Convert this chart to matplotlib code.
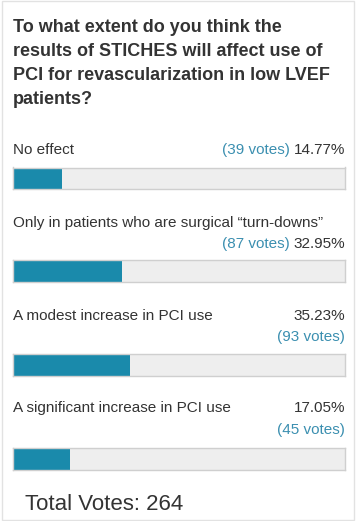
import matplotlib
matplotlib.use("Agg")
import matplotlib.pyplot as plt
from matplotlib.patches import Rectangle

# ---- data ----
title_lines = ["To what extent do you think the",
               "results of STICHES will affect use of",
               "PCI for revascularization in low LVEF",
               "patients?"]
options = ["No effect",
           "Only in patients who are surgical \u201cturn-downs\u201d",
           "A modest increase in PCI use",
           "A significant increase in PCI use"]
votes = [39, 87, 93, 45]
percents = [14.77, 32.95, 35.23, 17.05]
total_votes = 264

# ---- layout (pixel space) ----
W, H = 356, 521
FONT = ["Liberation Sans", "DejaVu Sans"]
DARK = "#333333"
TEAL_TXT = "#3b8fb0"
BAR = "#1a8aab"
BAR_BG = "#eeeeee"
BAR_EDGE = "#cfcfcf"
LEFT, RIGHT = 13, 345

fig = plt.figure(figsize=(W / 100, H / 100), dpi=100)
fig.patch.set_facecolor("white")
bg = fig.add_axes([0, 0, 1, 1])
bg.set_xlim(0, W)
bg.set_ylim(H, 0)
bg.axis("off")
bg.add_patch(Rectangle((1.5, 0.5), W - 4, H - 1.5, fill=False, edgecolor="#e2e2e2", lw=1))

title_baselines = [32, 56, 80, 104]
for line, yb in zip(title_lines, title_baselines):
    bg.text(LEFT, yb, line, fontsize=12.95, fontweight="bold", color=DARK,
            family=FONT, va="baseline", ha="left")

label_base = [154, 227, 320, 412]
vote_base = [154, 248, 341, 434]
pct_base = [154, 248, 320, 412]
bar_top = [167.5, 260, 354, 448]
bar_h = 21.5
FS = 11.0

renderer = fig.canvas.get_renderer()
for i, (opt, v, p) in enumerate(zip(options, votes, percents)):
    bg.text(LEFT, label_base[i], opt, fontsize=FS, color=DARK, family=FONT,
            va="baseline", ha="left")
    pt = bg.text(RIGHT, pct_base[i], f"{p:.2f}%", fontsize=FS, color=DARK,
                 family=FONT, va="baseline", ha="right")
    vstr = f"({v} votes)"
    if pct_base[i] == vote_base[i]:
        bb = pt.get_window_extent(renderer)
        wpx = bb.width
        bg.text(RIGHT - wpx - 4, vote_base[i], vstr, fontsize=FS, color=TEAL_TXT,
                family=FONT, va="baseline", ha="right")
    else:
        bg.text(RIGHT, vote_base[i], vstr, fontsize=FS, color=TEAL_TXT,
                family=FONT, va="baseline", ha="right")

    ax = fig.add_axes([LEFT / W, 1 - (bar_top[i] + bar_h) / H,
                       (RIGHT - LEFT) / W, bar_h / H])
    ax.set_facecolor(BAR_BG)
    ax.barh([0], [p], height=1.0, left=0, color=BAR, edgecolor="none")
    ax.set_xlim(0, 100)
    ax.set_ylim(-0.5, 0.5)
    ax.set_xticks([])
    ax.set_yticks([])
    for s in ax.spines.values():
        s.set_color(BAR_EDGE)
        s.set_linewidth(1)

bg.text(25, 510, f"Total Votes: {total_votes}", fontsize=16, color=DARK,
        family=FONT, va="baseline", ha="left")

fig.savefig("out.png", dpi=100, facecolor="white")
